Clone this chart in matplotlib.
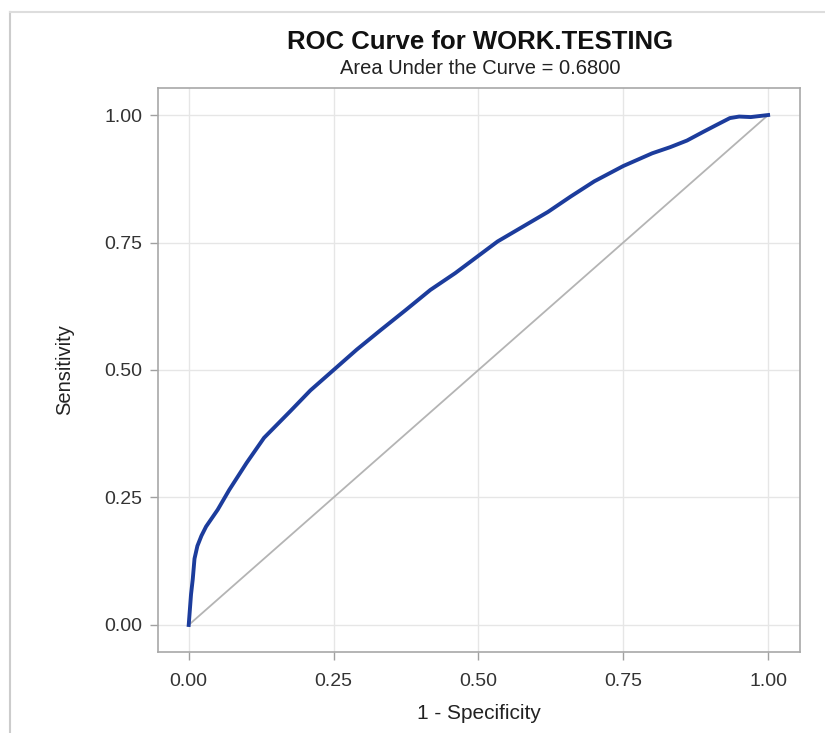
import matplotlib.pyplot as plt
from matplotlib.lines import Line2D

plt.rcParams['font.family'] = ['Liberation Sans', 'DejaVu Sans']

# ROC points (1 - specificity, sensitivity)
fpr = [0, 0.002, 0.004, 0.007, 0.010, 0.015, 0.022, 0.03, 0.05, 0.07, 0.10,
       0.13, 0.176, 0.21, 0.25, 0.29, 0.331, 0.375, 0.417, 0.46, 0.50,
       0.533, 0.572, 0.62, 0.659, 0.70, 0.75, 0.80, 0.831, 0.86, 0.888,
       0.91, 0.934, 0.95, 0.97, 1.0]
tpr = [0, 0.03, 0.06, 0.09, 0.13, 0.155, 0.175, 0.193, 0.226, 0.265, 0.318,
       0.367, 0.42, 0.46, 0.50, 0.54, 0.578, 0.618, 0.657, 0.69, 0.724,
       0.752, 0.778, 0.81, 0.84, 0.87, 0.90, 0.925, 0.937, 0.95, 0.967,
       0.98, 0.994, 0.997, 0.996, 1.0]
ticks = [0.0, 0.25, 0.5, 0.75, 1.0]
tick_labels = ['0.00', '0.25', '0.50', '0.75', '1.00']
auc = 0.68

fig = plt.figure(figsize=(8.25, 7.33), dpi=100)
ax = fig.add_axes([158 / 825, 81 / 733, 642 / 825, 564 / 733])

ax.plot([0, 1], [0, 1], color='#b4b4b4', lw=1.3, zorder=2)
ax.plot(fpr, tpr, color='#1c3c9c', lw=2.8, zorder=3)

ax.set_xlim(-0.053, 1.055)
ax.set_ylim(-0.053, 1.053)
ax.set_xticks(ticks)
ax.set_yticks(ticks)
ax.set_xticklabels(tick_labels)
ax.set_yticklabels(tick_labels)
ax.grid(True, color='#e6e6e6', lw=1.0, zorder=0)
ax.set_axisbelow(True)
ax.tick_params(colors='#a0a0a0', labelcolor='#333333', labelsize=14,
               length=6, width=1)
ax.tick_params(axis='x', pad=9)
ax.tick_params(axis='y', pad=5)
for s in ax.spines.values():
    s.set_color('#a8a8a8')
    s.set_linewidth(1.2)

ax.set_xlabel('1 - Specificity', fontsize=15, color='#222222', labelpad=10)
ax.set_ylabel('Sensitivity', fontsize=14.5, color='#222222', labelpad=22)

fig.text(480 / 825, 1 - 42 / 733, 'ROC Curve for WORK.TESTING',
         ha='center', va='center', fontsize=18.5, fontweight='bold', color='#111111')
fig.text(480 / 825, 1 - 68 / 733, 'Area Under the Curve = %.4f' % auc,
         ha='center', va='center', fontsize=14.5, color='#222222')

# thin frame lines at the left and top of the image
fig.add_artist(Line2D([10 / 825, 10 / 825], [0, 1 - 12 / 733],
                      color='#cccccc', lw=1.5, transform=fig.transFigure))
fig.add_artist(Line2D([10 / 825, 1], [1 - 12 / 733, 1 - 12 / 733],
                      color='#dddddd', lw=1.5, transform=fig.transFigure))

fig.savefig('out.png', dpi=100)
